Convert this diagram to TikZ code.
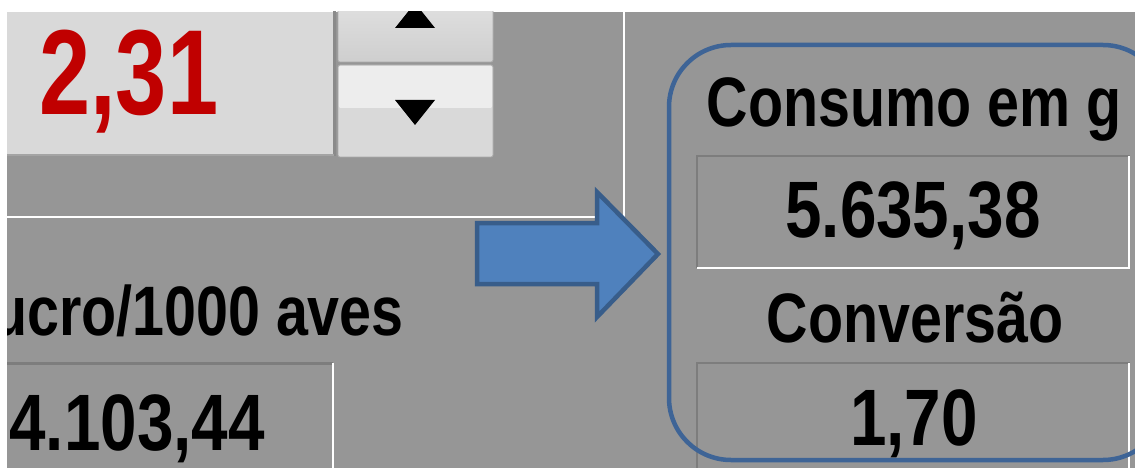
\documentclass[tikz,border=0pt]{standalone}
\usepackage{fontspec}
\newfontfamily\uifont{Liberation Sans}[FakeStretch=0.82]
\newfontfamily\redfont{Liberation Sans}[FakeStretch=0.76]
\definecolor{uibg}{RGB}{150,150,150}
\definecolor{inputgray}{RGB}{217,217,217}
\definecolor{sunk}{RGB}{125,125,125}
\definecolor{valred}{RGB}{192,0,0}
\definecolor{arrowfill}{RGB}{79,129,189}
\definecolor{arrowline}{RGB}{56,93,138}
\definecolor{framecol}{RGB}{62,100,150}
\definecolor{btnedge}{RGB}{170,170,170}
\tikzset{
  uitext/.style={inner sep=0pt, font=\uifont\bfseries},
  bigtext/.style={uitext, font=\uifont\bfseries\fontsize{70}{70}\selectfont},
  valtext/.style={uitext, font=\uifont\bfseries\fontsize{80}{80}\selectfont},
  sunkdark/.style={draw=sunk, line width=2.5pt},
  sunklight/.style={draw=white, line width=2.5pt},
  sepline/.style={draw=white, line width=2pt},
  btn/.style={draw=btnedge, line width=0.8pt, rounded corners=2pt},
}
\begin{document}
\begin{tikzpicture}[x=1pt,y=-1pt]
\useasboundingbox (0,0) rectangle (1135,468);
\fill[white] (0,0) rectangle (1135,468);
\begin{scope}
\clip (7,12) rectangle (1135,468);
\fill[uibg] (7,12) rectangle (1135,468);
% top-left input box
\fill[inputgray] (7,12) rectangle (333,154);
\draw[draw=sunk!90, line width=3pt] (334.5,10) -- (334.5,156);
\draw[draw=sunk!70!white, line width=1.5pt] (7,155) -- (334,155);
\node[inner sep=0pt, font=\redfont\bfseries\fontsize{121}{121}\selectfont, text=valred, anchor=base west] (v231) at (39,115) {2,31};
% spin buttons
\path[btn, top color=inputgray!80!white, bottom color=inputgray!95!black] (338,0) rectangle (493,62);
\path[btn, fill=inputgray] (338,65) rectangle (493,157);
\fill[white!93!black, rounded corners=2pt] (338.8,65.8) rectangle (492.2,108);
\fill[black] (395,28) -- (435,28) -- (415,3) -- cycle;
\fill[black] (395,100) -- (435,100) -- (415,125) -- cycle;
% separators
\draw[sepline] (624,12) -- (624,217) coordinate (corner) -- (7,217);
% lower-left value
\node[bigtext, anchor=base east] (lucro) at (404,335) {ucro/1000 aves};
\draw[sunkdark] (0,363.5) -- (333,363.5);
\draw[sunklight] (333,363) -- (333,470);
\node[valtext, anchor=base east] (lucroval) at (265,450) {4.103,44};
% right value boxes
\draw[sunkdark] (697,268) -- (697,156) -- (1130,156);
\draw[sunklight] (1129,156) -- (1129,268) -- (697,268);
\draw[sunkdark] (697,470) -- (697,363) -- (1130,363);
\draw[sunklight] (1129,363) -- (1129,470);
\node[bigtext, anchor=base] (consumo) at (914,127) {Consumo em g};
\node[valtext, anchor=base] (consval) at (913,237) {5.635,38};
\node[bigtext, anchor=base] (conv) at (915,342) {Conversão};
\node[valtext, anchor=base] (convval) at (914,445) {1,70};
% block arrow
\draw[fill=arrowfill, draw=arrowline, line width=4.5pt, line join=miter]
  (477,223) -- (597,223) -- (597,192) -- (658,254) -- (597,317) -- (597,284) -- (477,284) -- cycle;
% highlight frame
\draw[draw=framecol, line width=4.5pt, rounded corners=62pt] (669,45) rectangle (1165,460);
\end{scope}
\end{tikzpicture}
\end{document}
